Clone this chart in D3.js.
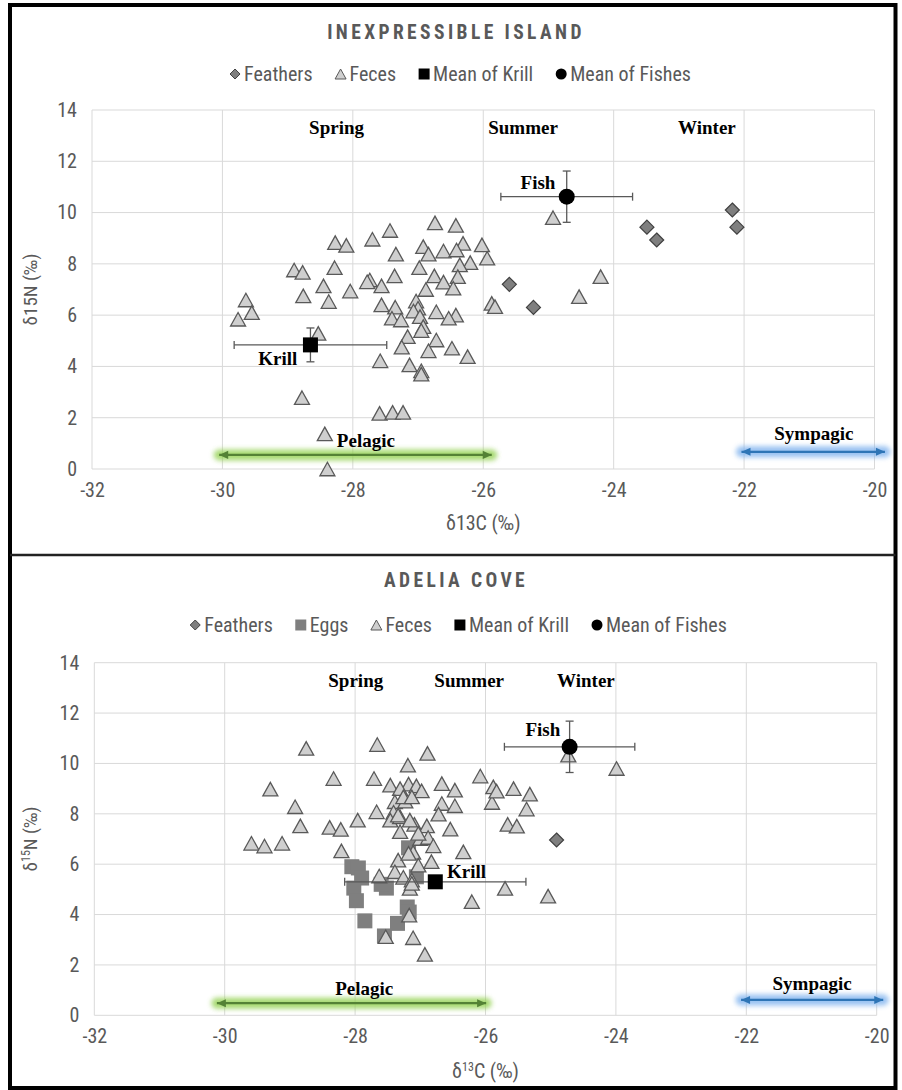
<!DOCTYPE html>
<html>
<head>
<meta charset="utf-8">
<script src="https://cdn.jsdelivr.net/npm/d3@7"></script>
<style>
  body { margin: 0; background: #fff; }
  svg text { font-family: "Liberation Sans Narrow", "Arial Narrow", "Roboto Condensed", "Liberation Sans", sans-serif; fill: #595959; }
  svg text.serif { font-family: "Liberation Serif", "Times New Roman", serif; font-weight: bold; fill: #000; }
</style>
</head>
<body>
<svg id="chart" width="902" height="1090"></svg>
<script>
// axis ticks
const xTicks = [-32, -30, -28, -26, -24, -22, -20];
const yTicks = [0, 2, 4, 6, 8, 10, 12, 14];

// Inexpressible Island (d13C, d15N)
const inexFeathers = [[-25.6, 7.2], [-25.23, 6.3], [-23.49, 9.43], [-23.34, 8.93], [-22.18, 10.1], [-22.11, 9.43]];
const inexFeces = [
  [-26.74, 9.6], [-26.42, 9.5], [-27.43, 9.3], [-27.7, 8.96], [-28.27, 8.83], [-28.1, 8.72], [-26.92, 8.67],
  [-26.31, 8.8], [-26.02, 8.74], [-27.34, 8.38], [-26.84, 8.38], [-26.61, 8.5], [-26.41, 8.54], [-25.94, 8.22],
  [-26.2, 8.05], [-26.36, 7.96], [-26.98, 7.85], [-28.28, 7.85], [-28.9, 7.76], [-28.77, 7.67], [-26.75, 7.53],
  [-26.39, 7.5], [-27.36, 7.53], [-27.74, 7.37], [-27.78, 7.3], [-27.56, 7.14], [-26.61, 7.29], [-26.88, 7.0],
  [-26.46, 7.05], [-28.45, 7.14], [-28.04, 6.94], [-28.76, 6.75], [-28.37, 6.53], [-27.03, 6.55], [-29.64, 6.59],
  [-29.55, 6.1], [-29.76, 5.84], [-27.56, 6.4], [-27.35, 6.31], [-27.0, 6.27], [-26.72, 6.13], [-26.42, 6.0],
  [-26.53, 5.88], [-27.07, 6.16], [-27.4, 5.88], [-27.26, 5.81], [-26.97, 5.94], [-26.92, 5.55], [-26.95, 5.4],
  [-27.16, 5.16], [-26.72, 5.03], [-28.53, 5.29], [-27.25, 4.75], [-26.84, 4.61], [-26.48, 4.71], [-26.24, 4.38],
  [-27.58, 4.22], [-27.13, 4.06], [-26.95, 3.83], [-26.95, 3.7], [-28.78, 2.78], [-27.59, 2.17], [-27.39, 2.21],
  [-27.23, 2.21], [-28.43, 1.37], [-28.39, 0], [-24.93, 9.8], [-24.2, 7.5], [-24.53, 6.72], [-25.87, 6.46], [-25.82, 6.33]
];
const inexKrill = [[-28.65, 4.84]];
const inexKrillErr = [[1.17, 0.66]];
const inexFish = [[-24.72, 10.62]];
const inexFishErr = [[1.01, 1.0]];

// Adelia Cove
const adeliaFeathers = [[-24.91, 6.96]];
const adeliaEggs = [
  [-28.05, 5.9], [-27.95, 5.85], [-27.9, 5.45], [-28.02, 5.05], [-27.98, 4.55], [-27.85, 3.75], [-27.55, 3.15],
  [-27.35, 3.65], [-27.2, 4.3], [-27.17, 4.1], [-27.52, 5.05], [-27.6, 5.2], [-27.18, 6.65], [-27.06, 5.5]
];
const adeliaFeces = [
  [-28.75, 10.6], [-27.66, 10.75], [-26.89, 10.4], [-27.19, 9.93], [-29.3, 8.98], [-28.33, 9.4], [-27.71, 9.4],
  [-26.08, 9.5], [-27.46, 9.14], [-27.18, 9.18], [-27.06, 9.11], [-26.67, 9.2], [-26.47, 8.94], [-25.88, 9.07],
  [-27.31, 9.0], [-26.98, 8.91], [-28.92, 8.28], [-26.67, 8.41], [-26.47, 8.32], [-27.39, 8.48], [-27.23, 8.5],
  [-25.9, 8.45], [-27.67, 8.08], [-27.41, 8.06], [-26.72, 7.99], [-28.84, 7.52], [-27.96, 7.75], [-28.39, 7.46],
  [-28.22, 7.38], [-27.46, 7.75], [-27.31, 7.88], [-27.09, 7.58], [-26.9, 7.52], [-26.54, 7.39], [-27.31, 7.29],
  [-29.59, 6.83], [-29.39, 6.72], [-29.12, 6.83], [-28.21, 6.53], [-27.0, 7.02], [-26.88, 7.06], [-26.8, 6.73],
  [-27.11, 6.47], [-26.34, 6.49], [-27.34, 6.16], [-27.03, 5.96], [-26.83, 6.1], [-27.39, 5.7], [-27.63, 5.53],
  [-27.26, 5.48], [-27.13, 5.37], [-27.16, 5.04], [-26.21, 4.51], [-27.17, 3.98], [-27.53, 3.12], [-27.11, 3.08],
  [-26.93, 2.42], [-24.73, 10.33], [-23.99, 9.8], [-25.83, 8.9], [-25.57, 9.0], [-25.32, 8.78], [-25.37, 8.19],
  [-25.66, 7.58], [-25.52, 7.51], [-25.7, 5.04], [-25.04, 4.73], [-27.26, 8.67], [-27.13, 8.67], [-27.34, 7.95],
  [-27.16, 7.75], [-27.03, 7.22], [-27.18, 6.43], [-27.13, 5.24]
];
const adeliaKrill = [[-26.77, 5.3]];
const adeliaKrillErr = [[1.39, 0]];
const adeliaFish = [[-24.71, 10.66]];
const adeliaFishErr = [[1.0, 1.02]];

// annotations (data coordinates)
const seasonNames = ["Spring", "Summer", "Winter"];
const inexSeasonX = [-28.25, -25.39, -22.57];
const adeliaSeasonX = [-27.99, -26.25, -24.46];
const inexNotes = [["Fish", -25.16, 11.18], ["Krill", -29.15, 4.32], ["Pelagic", -27.8, 1.1], ["Sympagic", -20.93, 1.39]];
const adeliaNotes = [["Fish", -25.12, 11.35], ["Krill", -26.29, 5.7], ["Pelagic", -27.86, 1.07], ["Sympagic", -20.99, 1.27]];
const inexPelagic = [-30.05, -25.87], inexSympagic = [-22.04, -19.84];
const adeliaPelagic = [-30.12, -25.99], adeliaSympagic = [-22.08, -19.9];

const svg = d3.select("#chart");
const defs = svg.append("defs");

defs.append("filter").attr("id", "blur")
  .attr("filterUnits", "userSpaceOnUse")
  .attr("x", 0).attr("y", 0).attr("width", 902).attr("height", 1090)
  .append("feGaussianBlur").attr("stdDeviation", 2.8);

[["arrGreen", "#548235"], ["arrBlue", "#2e75b6"]].forEach(([id, c]) => {
  defs.append("marker").attr("id", id)
    .attr("viewBox", "0 -5 10 10").attr("refX", 10).attr("refY", 0)
    .attr("markerUnits", "userSpaceOnUse")
    .attr("markerWidth", 10).attr("markerHeight", 9)
    .attr("orient", "auto-start-reverse")
    .append("path").attr("d", "M0,-4.5L10,0L0,4.5Z").attr("fill", c);
});

// marker shapes, centred on bounding box
const triangle = (w, h) => `M0,${-h / 2}L${w / 2},${h / 2}L${-w / 2},${h / 2}Z`;
const diamond = s => `M0,${-s / 2}L${s / 2},0L0,${s / 2}L${-s / 2},0Z`;
const square = s => `M${-s / 2},${-s / 2}h${s}v${s}h${-s}Z`;
const circle = r => `M${r},0A${r},${r} 0 1,1 ${-r},0A${r},${r} 0 1,1 ${r},0Z`;

const styles = {
  Feathers: { fill: "#7f7f7f", stroke: "#404040", sw: 1.2, big: diamond(14), small: diamond(10) },
  Eggs: { fill: "#7f7f7f", stroke: "none", sw: 0, big: square(15), small: square(11) },
  Feces: { fill: "#cfcfcf", stroke: "#595959", sw: 1.3, big: triangle(15, 13.5), small: triangle(11, 10) },
  "Mean of Krill": { fill: "#000", stroke: "none", sw: 0, big: square(15), small: square(11) },
  "Mean of Fishes": { fill: "#000", stroke: "none", sw: 0, big: circle(8), small: circle(5.5) }
};

svg.append("rect").attr("x", 10).attr("y", 5).attr("width", 885.5).attr("height", 1083)
  .attr("fill", "none").attr("stroke", "#000").attr("stroke-width", 4);
svg.append("line").attr("x1", 10).attr("x2", 895.5).attr("y1", 555).attr("y2", 555)
  .attr("stroke", "#222").attr("stroke-width", 2.5);

function drawLegend(names, cx, cy) {
  const g = svg.append("g");
  let pos = 0;
  names.forEach(name => {
    const st = styles[name];
    const ig = g.append("g").attr("transform", `translate(${pos},${cy})`);
    ig.append("path").attr("d", st.small).attr("fill", st.fill)
      .attr("stroke", st.stroke).attr("stroke-width", st.sw ? 1 : 0);
    const t = ig.append("text").attr("x", 9).attr("dy", "0.35em")
      .style("font-size", "20px").text(name);
    pos += 9 + t.node().getComputedTextLength() + 28;
  });
  const w = pos - 28;
  g.attr("transform", `translate(${cx - w / 2},0)`);
}

function drawPanel(p) {
  const x = d3.scaleLinear().domain([-32, -20]).range([p.left, p.right]);
  const y = d3.scaleLinear().domain([0, 14]).range([p.bottom, p.top]);
  const g = svg.append("g");

  // title
  g.append("text").attr("x", p.titleX).attr("y", p.titleY).attr("dy", "0.35em")
    .attr("text-anchor", "middle").style("font-size", "19.5px").style("font-weight", "bold")
    .style("letter-spacing", "3.4px").text(p.title);

  drawLegend(p.legend, p.legendX, p.legendY);

  // gridlines
  g.append("g").selectAll("line").data(xTicks).join("line")
    .attr("x1", d => x(d)).attr("x2", d => x(d)).attr("y1", p.top).attr("y2", p.bottom)
    .attr("stroke", "#d9d9d9").attr("stroke-width", 1);
  g.append("g").selectAll("line").data(yTicks).join("line")
    .attr("x1", p.left).attr("x2", p.right).attr("y1", d => y(d)).attr("y2", d => y(d))
    .attr("stroke", "#d9d9d9").attr("stroke-width", 1);

  // axes (labels only)
  const xAxis = g.append("g").attr("transform", `translate(0,${p.bottom})`)
    .call(d3.axisBottom(x).tickValues(xTicks).tickFormat(d => String(d)).tickSize(0).tickPadding(14));
  const yAxis = g.append("g").attr("transform", `translate(${p.left},0)`)
    .call(d3.axisLeft(y).tickValues(yTicks).tickFormat(d => String(d)).tickSize(0).tickPadding(15));
  [xAxis, yAxis].forEach(a => {
    a.select(".domain").remove();
    a.selectAll("text").attr("fill", "#595959").style("font-size", "20px").style("font-family", null);
  });

  // axis titles
  const xt = g.append("text").attr("x", (p.left + p.right) / 2).attr("y", p.bottom + p.xTitleOff).attr("dy", "0.35em")
    .attr("text-anchor", "middle").style("font-size", "20px");
  const yt = g.append("text").attr("transform", `translate(30,${(p.top + p.bottom) / 2}) rotate(-90)`)
    .attr("dy", "0.35em").attr("text-anchor", "middle").style("font-size", "19px");
  if (p.superscript) {
    xt.append("tspan").text("δ");
    xt.append("tspan").attr("baseline-shift", "super").style("font-size", "12px").text("13");
    xt.append("tspan").text("C (‰)");
    yt.append("tspan").text("δ");
    yt.append("tspan").attr("baseline-shift", "super").style("font-size", "12px").text("15");
    yt.append("tspan").text("N (‰)");
  } else {
    xt.text("δ13C (‰)");
    yt.text("δ15N (‰)");
  }

  // pelagic / sympagic arrows
  [[p.pelagic, p.pelagicY, "#548235", "#92d050", "arrGreen"],
   [p.sympagic, p.sympagicY, "#2e75b6", "#7fb2ee", "arrBlue"]].forEach(([r, yv, c, glow, id]) => {
    g.append("line").attr("x1", x(r[0])).attr("x2", x(r[1])).attr("y1", y(yv)).attr("y2", y(yv))
      .attr("stroke", glow).attr("stroke-width", 11).attr("stroke-linecap", "round")
      .attr("opacity", 0.8).attr("filter", "url(#blur)");
    g.append("line").attr("x1", x(r[0])).attr("x2", x(r[1])).attr("y1", y(yv)).attr("y2", y(yv))
      .attr("stroke", c).attr("stroke-width", 2.2)
      .attr("marker-start", `url(#${id})`).attr("marker-end", `url(#${id})`);
  });

  // series
  p.series.forEach(s => {
    const st = styles[s.name];
    if (s.err) {
      const rows = s.data.map((d, i) => ({ x: d[0], y: d[1], ex: s.err[i][0], ey: s.err[i][1] }));
      const eg = g.append("g").attr("stroke", "#595959").attr("stroke-width", 1.3);
      rows.forEach(d => {
        eg.append("line").attr("x1", x(d.x - d.ex)).attr("x2", x(d.x + d.ex)).attr("y1", y(d.y)).attr("y2", y(d.y));
        [d.x - d.ex, d.x + d.ex].forEach(v => eg.append("line")
          .attr("x1", x(v)).attr("x2", x(v)).attr("y1", y(d.y) - 4).attr("y2", y(d.y) + 4));
        if (d.ey > 0) {
          eg.append("line").attr("x1", x(d.x)).attr("x2", x(d.x)).attr("y1", y(d.y - d.ey)).attr("y2", y(d.y + d.ey));
          [d.y - d.ey, d.y + d.ey].forEach(v => eg.append("line")
            .attr("x1", x(d.x) - 4).attr("x2", x(d.x) + 4).attr("y1", y(v)).attr("y2", y(v)));
        }
      });
    }
    g.append("g").selectAll("path").data(s.data).join("path")
      .attr("transform", d => `translate(${x(d[0])},${y(d[1])})`)
      .attr("d", st.big).attr("fill", st.fill).attr("stroke", st.stroke).attr("stroke-width", st.sw);
  });

  // season and group labels
  g.append("g").selectAll("text").data(seasonNames).join("text")
    .attr("class", "serif").attr("x", (d, i) => x(p.seasonX[i])).attr("y", y(13.31)).attr("dy", "0.35em")
    .attr("text-anchor", "middle").style("font-size", "19px").text(d => d);
  g.append("g").selectAll("text").data(p.notes).join("text")
    .attr("class", "serif").attr("x", d => x(d[1])).attr("y", d => y(d[2])).attr("dy", "0.35em")
    .attr("text-anchor", "middle").style("font-size", "19px").text(d => d[0]);
}

drawPanel({
  title: "INEXPRESSIBLE ISLAND", titleX: 456, titleY: 32,
  legend: ["Feathers", "Feces", "Mean of Krill", "Mean of Fishes"], legendX: 463, legendY: 74,
  left: 92, right: 874.5, top: 110, bottom: 469, xTitleOff: 54,
  superscript: false,
  pelagic: inexPelagic, pelagicY: 0.55, sympagic: inexSympagic, sympagicY: 0.67,
  seasonX: inexSeasonX, notes: inexNotes,
  series: [
    { name: "Feathers", data: inexFeathers },
    { name: "Feces", data: inexFeces },
    { name: "Mean of Krill", data: inexKrill, err: inexKrillErr },
    { name: "Mean of Fishes", data: inexFish, err: inexFishErr }
  ]
});

drawPanel({
  title: "ADELIA COVE", titleX: 456, titleY: 580,
  legend: ["Feathers", "Eggs", "Feces", "Mean of Krill", "Mean of Fishes"], legendX: 461, legendY: 625,
  left: 94.3, right: 876.7, top: 662.7, bottom: 1015.3, xTitleOff: 56,
  superscript: true,
  pelagic: adeliaPelagic, pelagicY: 0.48, sympagic: adeliaSympagic, sympagicY: 0.61,
  seasonX: adeliaSeasonX, notes: adeliaNotes,
  series: [
    { name: "Feathers", data: adeliaFeathers },
    { name: "Eggs", data: adeliaEggs },
    { name: "Feces", data: adeliaFeces },
    { name: "Mean of Krill", data: adeliaKrill, err: adeliaKrillErr },
    { name: "Mean of Fishes", data: adeliaFish, err: adeliaFishErr }
  ]
});
</script>
</body>
</html>
